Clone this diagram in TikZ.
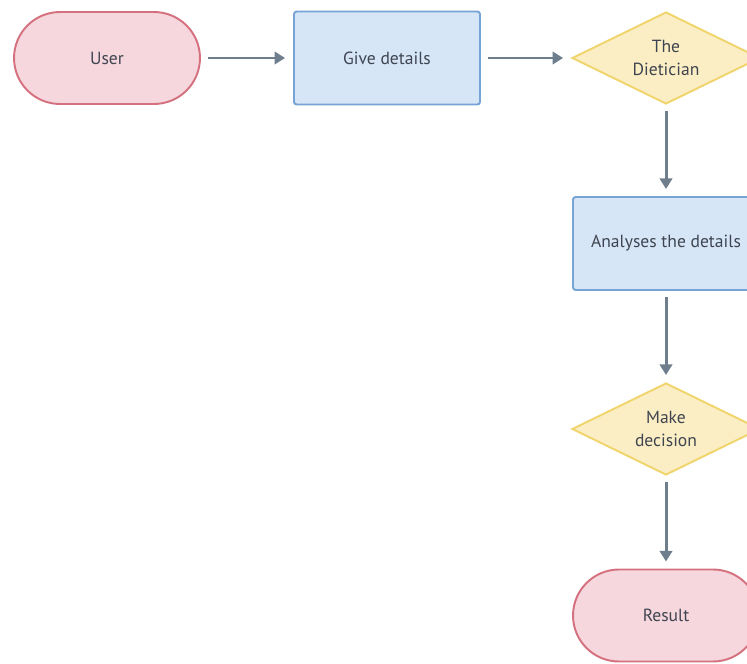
\documentclass[tikz,border=0pt]{standalone}
\usepackage{fontspec}
\setmainfont{PT Sans}
\usetikzlibrary{arrows.meta,shapes.geometric}

\definecolor{pillfill}{HTML}{F6D7DD}
\definecolor{pillline}{HTML}{D5717F}
\definecolor{boxfill}{HTML}{D6E6F6}
\definecolor{boxline}{HTML}{76A4D4}
\definecolor{decfill}{HTML}{FCEEC4}
\definecolor{decline}{HTML}{F0D46C}
\definecolor{flowgray}{HTML}{6E7E8D}
\definecolor{txtgray}{HTML}{3F4550}

\begin{document}
\begin{tikzpicture}[x={(0.02cm,0)},y={(0,-0.02cm)},
		every node/.style={font=\fontsize{10}{13}\selectfont,text=txtgray,align=center},
		terminal/.style={rectangle,draw=pillline,fill=pillfill,line width=1.1pt,
			minimum width=3.72cm,minimum height=1.84cm,rounded corners=0.92cm,inner sep=0},
		process/.style={rectangle,draw=boxline,fill=boxfill,line width=1.1pt,
			minimum width=3.72cm,minimum height=1.86cm,rounded corners=1.5pt,inner sep=0},
		decision/.style={diamond,aspect=2.04,draw=decline,fill=decfill,line width=1.1pt,
			minimum width=3.76cm,minimum height=1.84cm,inner sep=0},
		flow/.style={-{Triangle[length=6pt,width=7pt]},draw=flowgray,line width=1.7pt}]
		\clip (0,0) rectangle (747,663);
		\useasboundingbox (0,0) rectangle (747,663);
		% top row
		\node[terminal] (user) at (107,58) {User};
		\node[process] (give) at (387,58) {Give details};
		\node[decision] (diet) at (666,58) {The\\Dietician};
		% right column
		\node[process] (analyse) at (666,243.5) {Analyses the details};
		\node[decision] (decide) at (666,429) {Make\\decision};
		\node[terminal] (result) at (666,615.5) {Result};
		% connectors
		\draw[flow] ([xshift=4pt]user.east) -- ([xshift=-4.5pt]give.west);
		\draw[flow] ([xshift=4pt]give.east) -- ([xshift=-4.5pt]diet.west);
		\draw[flow] ([yshift=-3.5pt]diet.south) -- ([yshift=4pt]analyse.north);
		\draw[flow] ([yshift=-3.5pt]analyse.south) -- ([yshift=4pt]decide.north);
		\draw[flow] ([yshift=-3.5pt]decide.south) -- ([yshift=4pt]result.north);
\end{tikzpicture}
\end{document}
